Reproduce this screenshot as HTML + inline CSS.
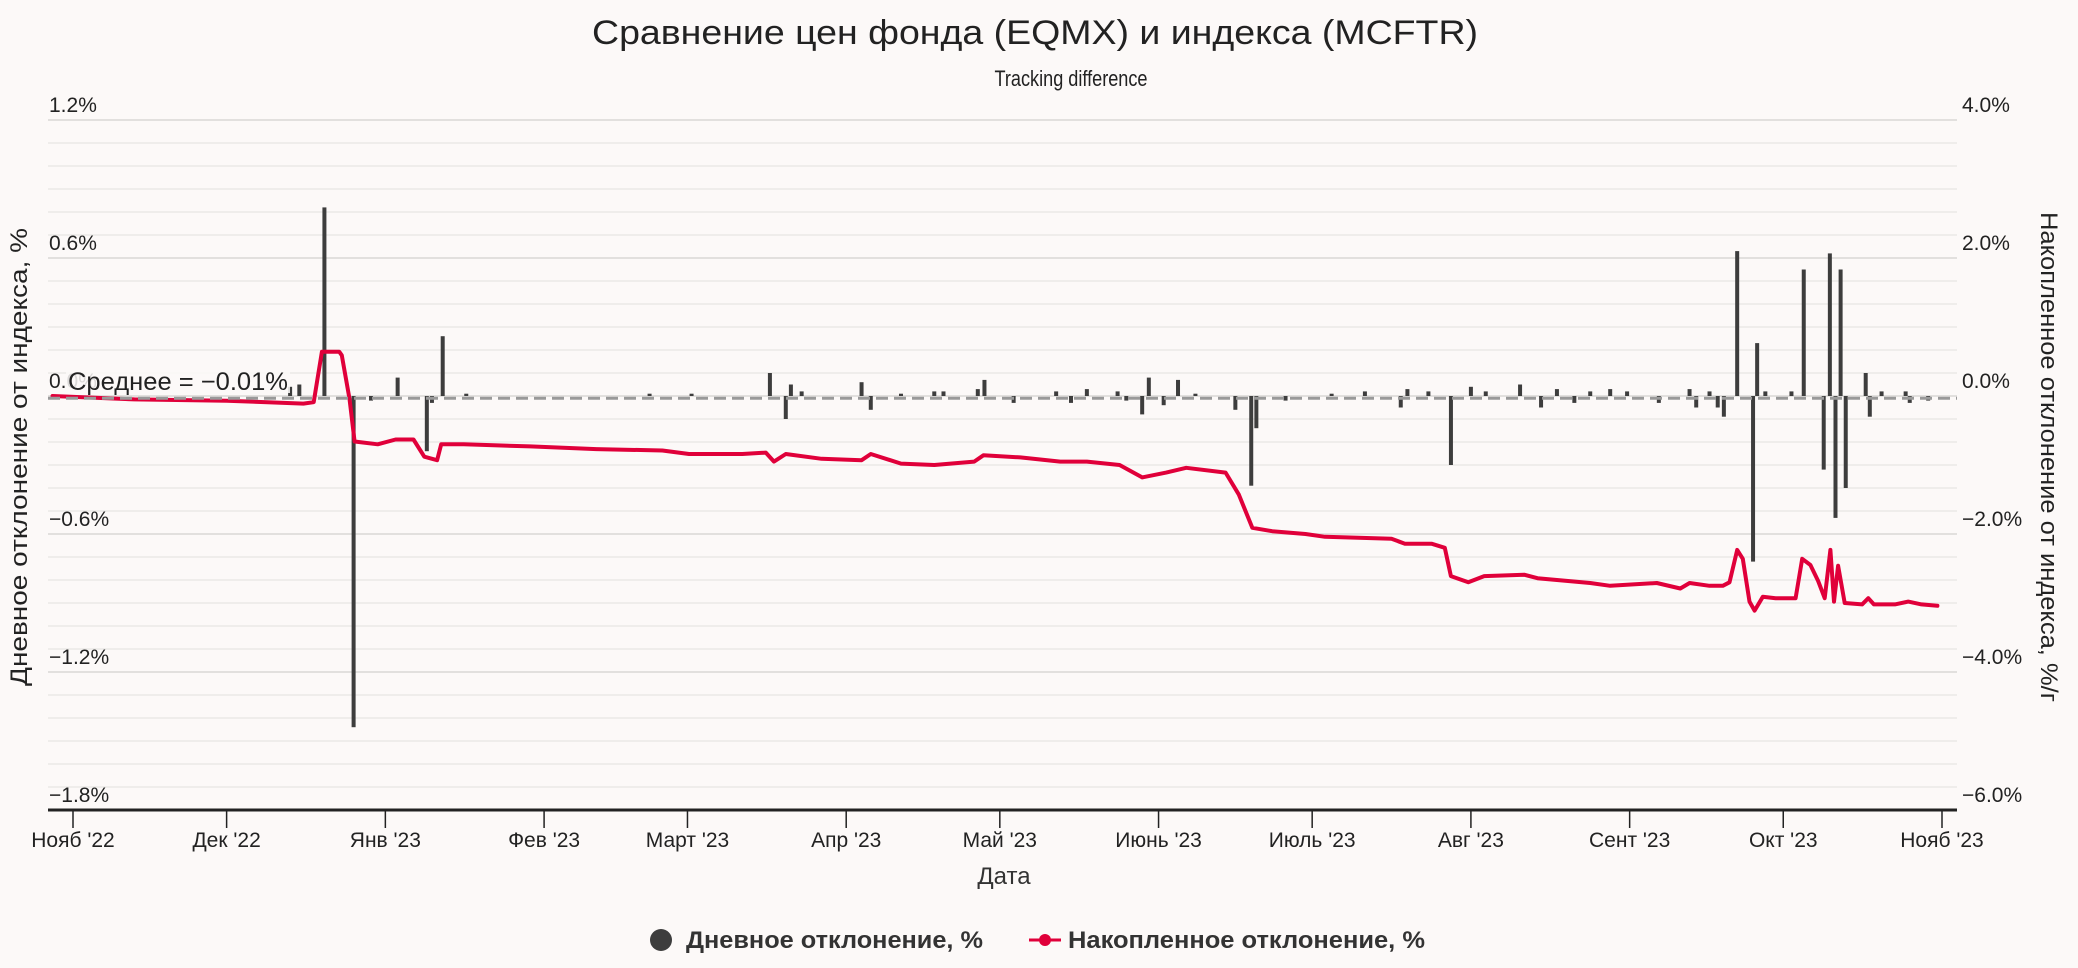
<!DOCTYPE html>
<html><head><meta charset="utf-8"><style>
html,body{margin:0;padding:0;background:#fcf9f8;}
svg{display:block;font-family:"Liberation Sans","DejaVu Sans",sans-serif;}
</style></head><body>
<svg id="chart" width="2078" height="968" viewBox="0 0 2078 968" xmlns="http://www.w3.org/2000/svg">
<rect x="0" y="0" width="2078" height="968" fill="#fcf9f8"/>
<text x="1035" y="44" text-anchor="middle" font-size="34" fill="#222" textLength="886" lengthAdjust="spacingAndGlyphs">Сравнение цен фонда (EQMX) и индекса (MCFTR)</text>
<text x="1071" y="86" text-anchor="middle" font-size="22" fill="#222" textLength="153" lengthAdjust="spacingAndGlyphs">Tracking difference</text>
<g id="grid"></g>
<g id="bars"></g>
<g id="line"></g>
<g id="overlay"></g>
<text x="1004" y="884" text-anchor="middle" font-size="24" fill="#333">Дата</text>
<text transform="translate(27,destY) rotate(-90)" text-anchor="middle" font-size="24" fill="#222" textLength="458" lengthAdjust="spacingAndGlyphs" id="lt">Дневное отклонение от индекса, %</text>
<text transform="translate(2041,457) rotate(90)" text-anchor="middle" font-size="24" fill="#222" textLength="490" lengthAdjust="spacingAndGlyphs">Накопленное отклонение от индекса, %/г</text>
<g>
<g>
<circle cx="661" cy="940" r="11" fill="#3d3d3d"/>
<text x="686" y="948" font-size="24" font-weight="bold" fill="#333" textLength="297" lengthAdjust="spacingAndGlyphs">Дневное отклонение, %</text>
</g>
<g>
<line x1="1029" y1="940" x2="1061" y2="940" stroke="#e0003a" stroke-width="3"/>
<circle cx="1045" cy="940" r="6" fill="#e0003a"/>
<text x="1068" y="948" font-size="24" font-weight="bold" fill="#333" textLength="357" lengthAdjust="spacingAndGlyphs">Накопленное отклонение, %</text>
</g>
</g>
</svg>
<script>
// Data (day offsets from 2022-11-01)
const barDays = [42.4,44.2,49.1,54.8,58.2,63.4,69.1,70.1,72.2,76.8,112.6,120.8,136.1,139.2,140.2,142.3,154,155.8,161.7,168.2,170,176.7,178,183.7,192,194.9,198,204,205.7,208.8,210.1,213,215.8,219.2,227,230.1,231.1,236.8,245.8,252.3,259.3,260.6,264.7,269.1,273,275.9,282.6,286.7,289.8,293.2,296.3,300.2,303.5,309.7,315.7,317,319.6,321.2,322.4,325,328.1,328.9,330.5,335.6,338,341.9,343.1,344.2,345.2,346.2,350.1,350.9,353.2,357.9,358.7,362.3];
const barValues = [0.04,0.05,0.82,-1.44,-0.02,0.08,-0.24,-0.03,0.26,0.01,0.01,0.01,0.1,-0.1,0.05,0.02,0.06,-0.06,0.01,0.02,0.02,0.03,0.07,-0.03,0.02,-0.03,0.03,0.02,-0.02,-0.08,0.08,-0.04,0.07,0.01,-0.06,-0.39,-0.14,-0.02,0.01,0.02,-0.05,0.03,0.02,-0.3,0.04,0.02,0.05,-0.05,0.03,-0.03,0.02,0.03,0.02,-0.03,0.03,-0.05,0.02,-0.05,-0.09,0.63,-0.72,0.23,0.02,0.02,0.55,-0.32,0.62,-0.53,0.55,-0.4,0.1,-0.09,0.02,0.02,-0.03,-0.02];
const lineDays = [-4,12,30,38,45,47,48.6,52,52.5,54,55,59.5,63,66.5,68.6,71.1,71.9,76.3,89.3,102.2,115.1,120.3,130.7,135.3,136.9,139.2,146.2,154,155.8,161.7,168.2,176,177.8,185,192.8,198,204.4,208.8,213.5,217.4,225.1,227.7,230.3,234.2,240.7,244.5,257.5,260.1,265.3,267.9,269.1,272.5,275.6,283.4,286,296.3,300.2,309.3,313.9,315.7,319.6,322.2,323.5,325,326.1,327.4,328.4,330,332.5,336.4,337.7,339.3,340.8,342.1,343.2,343.9,344.7,346,349.4,350.6,351.7,355.8,358.4,361,364.1];
const lineValues = [0,-0.05,-0.07,-0.09,-0.11,-0.09,0.64,0.64,0.59,-0.04,-0.66,-0.7,-0.63,-0.63,-0.88,-0.93,-0.7,-0.7,-0.73,-0.77,-0.79,-0.84,-0.84,-0.82,-0.95,-0.84,-0.91,-0.93,-0.84,-0.98,-1.0,-0.95,-0.86,-0.89,-0.95,-0.95,-1.0,-1.18,-1.11,-1.04,-1.11,-1.43,-1.91,-1.96,-2.0,-2.04,-2.07,-2.14,-2.14,-2.2,-2.61,-2.7,-2.61,-2.59,-2.64,-2.71,-2.75,-2.71,-2.79,-2.71,-2.75,-2.75,-2.7,-2.23,-2.36,-2.98,-3.11,-2.91,-2.93,-2.93,-2.36,-2.45,-2.68,-2.93,-2.23,-2.98,-2.46,-3.0,-3.02,-2.93,-3.02,-3.02,-2.98,-3.02,-3.04];
const meanValue = -0.01;
const xTickLabels = ["Нояб '22","Дек '22","Янв '23","Фев '23","Март '23","Апр '23","Май '23","Июнь '23","Июль '23","Авг '23","Сент '23","Окт '23","Нояб '23"];
const xTickDays = [0,30,61,92,120,151,181,212,242,273,304,334,365];
const leftTicks = [1.2,0.6,0,-0.6,-1.2,-1.8];
const rightTicks = [4,2,0,-2,-4,-6];

document.getElementById('lt').setAttribute('transform','translate(27,457) rotate(-90)');
const NS="http://www.w3.org/2000/svg";
const L=48,R=1957,T=120,B=810;
const x=d=>73+d*(1942-73)/365;
const yL=v=>396-(v/0.6)*138;
const yR=v=>396-(v/2)*138;
function mk(tag,attrs,parent,text){const e=document.createElementNS(NS,tag);for(const k in attrs)e.setAttribute(k,attrs[k]);if(text!==undefined)e.textContent=text;parent.appendChild(e);return e;}
const grid=document.getElementById('grid');
for(let i=0;i<=30;i++){const v=1.2-i*0.1;const yy=yL(v);
 const g=mk('line',{x1:L,x2:R,y1:yy,y2:yy,stroke:i%6===0?'#e2e0de':'#efedeb','stroke-width':2},grid);
 
 }
leftTicks.forEach(v=>{const t=mk('text',{x:L+1,y:yL(v)-8,'font-size':21,fill:'#222'},grid,(v<0?'\u2212':'')+Math.abs(v).toFixed(1)+'%');
 
 });
rightTicks.forEach(v=>{const t=mk('text',{x:1962,y:yR(v)-8,'font-size':21,fill:'#222'},grid,(v<0?'\u2212':'')+Math.abs(v).toFixed(1)+'%');
 
 });
const ax=mk('line',{x1:L,x2:R,y1:B,y2:B,stroke:'#222','stroke-width':3},grid);


xTickDays.forEach((d,i)=>{const tk=mk('line',{x1:x(d),x2:x(d),y1:B,y2:B+18,stroke:'#222','stroke-width':1.5},grid);
 
 
 const t=mk('text',{x:x(d),y:847,'text-anchor':'middle','font-size':21,fill:'#222'},grid,xTickLabels[i]);
 
 });
const bars=document.getElementById('bars');
barDays.forEach((d,i)=>{const v=barValues[i];const y0=yL(0),y1=yL(v);
 const r=mk('rect',{x:x(d)-2,y:Math.min(y0,y1),width:4,height:Math.max(1.5,Math.abs(y1-y0)),fill:'#3d3d3d'},bars);
 
 });
const lg=document.getElementById('line');
const pts=lineDays.map((d,i)=>x(d).toFixed(1)+','+yR(lineValues[i]).toFixed(1)).join(' ');
const pl=mk('polyline',{points:pts,fill:'none',stroke:'#e0003a','stroke-width':4,'stroke-linejoin':'round','stroke-linecap':'round'},lg);


const ov=document.getElementById('overlay');
const ym=yL(meanValue);
const ml=mk('line',{x1:L,x2:R,y1:ym,y2:ym,stroke:'#999','stroke-width':3,'stroke-dasharray':'12,6'},ov);


const mb=mk('rect',{x:66,y:366,width:224,height:27,fill:'#fcf9f8','fill-opacity':0.85},ov);


const mt=mk('text',{x:68,y:390,'font-size':25,fill:'#222',textLength:220,lengthAdjust:'spacingAndGlyphs'},ov,'Среднее = \u22120.01%');


</script>
</body></html>
